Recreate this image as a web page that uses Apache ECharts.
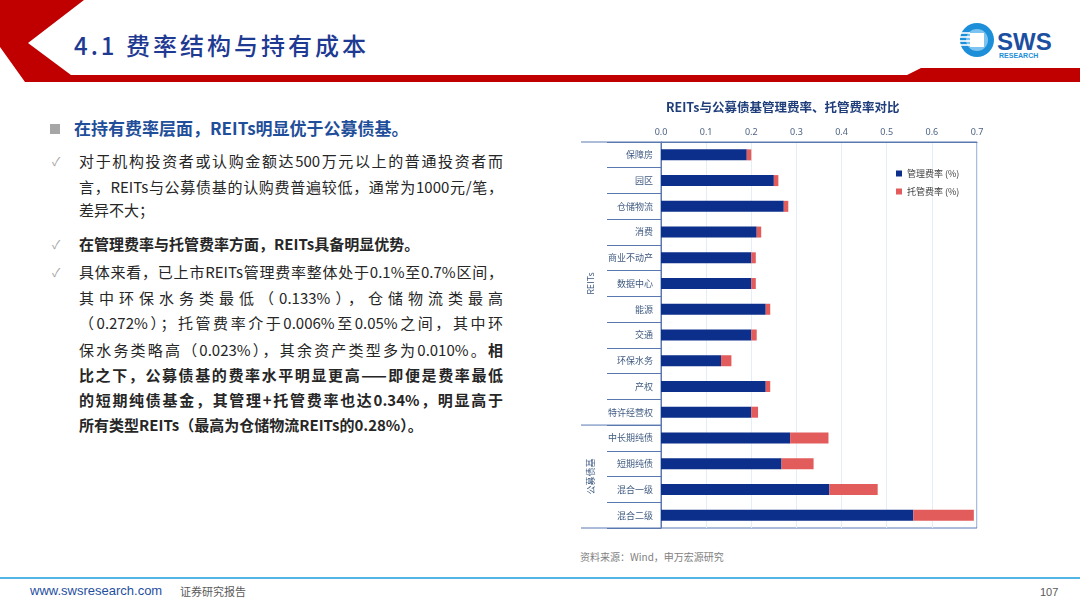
<!DOCTYPE html>
<html><head><meta charset="utf-8">
<script src="https://cdn.jsdelivr.net/npm/echarts@6/dist/echarts.min.js"></script>
<style>
html,body{margin:0;padding:0;background:#fff;width:1080px;height:608px;overflow:hidden;font-family:"Noto Sans CJK SC","Noto Sans",sans-serif;}
#chart{position:absolute;left:0;top:0;width:1080px;height:608px;}
.ln{position:absolute;left:79px;width:424px;font-size:15px;color:#262626;white-space:nowrap;line-height:20px;}
.j{text-align:justify;text-align-last:justify;}
.b{font-weight:bold;}
.ck{position:absolute;left:52px;font-size:12px;color:#a6a6a6;line-height:20px;}
</style></head>
<body>
<svg width="1080" height="608" style="position:absolute;left:0;top:0">
  <polygon points="0,0 84,0 28,43 71,75 907,75 921,68 1080,68 1080,82 25,82 0,47" fill="#c00000"/>
  <line x1="0" y1="578" x2="1080" y2="578" stroke="#53b4e6" stroke-width="2"/>
  <circle cx="977" cy="40" r="17" fill="#1d8fd8"/>
  <circle cx="977" cy="40" r="11" fill="#7cc3ef"/>
  <rect x="970" y="33" width="14" height="14" fill="#ffffff"/>
  <g stroke="#ffffff" stroke-width="1.6">
    <line x1="961" y1="33" x2="970" y2="33"/>
    <line x1="960" y1="37" x2="970" y2="37"/>
    <line x1="960" y1="41" x2="970" y2="41"/>
    <line x1="960" y1="45" x2="970" y2="45"/>
  </g>
  <text x="997" y="50" font-family="Liberation Sans, Arial" font-weight="bold" font-size="24" fill="#1c4fa1">SWS</text>
  <text x="999" y="58" font-family="Liberation Sans, Arial" font-weight="bold" font-size="7" fill="#1d8fd8">RESEARCH</text>
</svg>
<div style="position:absolute;left:74px;top:29px;font-size:24px;letter-spacing:3px;color:#1f3a93;font-weight:500;line-height:32px;">4.1 费率结构与持有成本</div>

<div style="position:absolute;left:50px;top:124px;width:10px;height:10px;background:#a6a6a6"></div>
<div style="position:absolute;left:74px;top:118px;font-size:17px;font-weight:bold;color:#1f4e9a;line-height:20px;white-space:nowrap">在持有费率层面，REITs明显优于公募债基。</div>

<div class="ck" style="top:151px">✓</div>
<div class="ln j" style="top:151px">对于机构投资者或认购金额达500万元以上的普通投资者而</div>
<div class="ln j" style="top:177px">言，REITs与公募债基的认购费普遍较低，通常为1000元/笔，</div>
<div class="ln" style="top:200px">差异不大；</div>
<div class="ck" style="top:234px">✓</div>
<div class="ln b" style="top:234px">在管理费率与托管费率方面，REITs具备明显优势。</div>
<div class="ck" style="top:262px">✓</div>
<div class="ln j" style="top:262px">具体来看，已上市REITs管理费率整体处于0.1%至0.7%区间，</div>
<div class="ln j" style="top:288px">其中环保水务类最低（0.133%），仓储物流类最高</div>
<div class="ln j" style="top:313px">（0.272%）；托管费率介于0.006%至0.05%之间，其中环</div>
<div class="ln j" style="top:340px">保水务类略高（0.023%），其余资产类型多为0.010%。<b>相</b></div>
<div class="ln j b" style="top:365px">比之下，公募债基的费率水平明显更高——即便是费率最低</div>
<div class="ln j b" style="top:390px">的短期纯债基金，其管理+托管费率也达0.34%，明显高于</div>
<div class="ln b" style="top:415px">所有类型REITs（最高为仓储物流REITs的0.28%）。</div>

<div style="position:absolute;left:580px;top:550px;font-size:10px;color:#7f7f7f;line-height:14px">资料来源：Wind，申万宏源研究</div>
<div style="position:absolute;left:30px;top:583px;font-size:13px;color:#1f4f9f;font-family:'Liberation Sans Narrow','Liberation Sans',sans-serif;line-height:16px">www.swsresearch.com</div>
<div style="position:absolute;left:180px;top:583px;font-size:11px;color:#595959;line-height:16px">证券研究报告</div>
<div style="position:absolute;left:1040px;top:584px;font-size:11px;color:#595959;font-family:'Liberation Sans Narrow','Liberation Sans',sans-serif;line-height:16px">107</div>

<div id="chart"></div>
<script>
const categories = ['保障房','园区','仓储物流','消费','商业不动产','数据中心','能源','交通','环保水务','产权','特许经营权','中长期纯债','短期纯债','混合一级','混合二级'];
const mgmtFee    = [0.19, 0.25, 0.272, 0.212, 0.20, 0.20, 0.232, 0.20, 0.133, 0.232, 0.20, 0.286, 0.267, 0.373, 0.559];
const custodyFee = [0.01, 0.01, 0.010, 0.010, 0.01, 0.01, 0.010, 0.012, 0.023, 0.010, 0.015, 0.085, 0.071, 0.107, 0.134];
const seriesNames = ['管理费率 (%)','托管费率 (%)'];
const groupNames = ['REITs','公募债基'];
const groupSizes = [11, 4];
const xMin = 0, xMax = 0.7, xStep = 0.1;

const axisColor = '#5a78b0';
const chart = echarts.init(document.getElementById('chart'), null, {renderer:'canvas'});
const GRID = {left:661, right:103, top:142, bottom:80};
chart.setOption({
  backgroundColor:'transparent',
  animation:false,
  title:{text:'REITs与公募债基管理费率、托管费率对比', left:661, top:96,
    textStyle:{fontSize:12.5, fontWeight:'bold', color:'#1f3d7a', fontFamily:'Noto Sans CJK SC'}},
  legend:{orient:'vertical', left:891, top:164, itemWidth:6, itemHeight:6, itemGap:9, icon:'rect',
    textStyle:{fontSize:9, color:'#404040', fontFamily:'Noto Sans CJK SC'}, data:seriesNames},
  grid:{left:GRID.left, right:GRID.right, top:GRID.top, bottom:GRID.bottom, show:true, borderColor:axisColor, borderWidth:1, backgroundColor:'transparent'},
  xAxis:{type:'value', position:'top', min:xMin, max:xMax, interval:xStep,
    axisLine:{show:true, lineStyle:{color:axisColor}}, axisTick:{show:false},
    axisLabel:{formatter:v=>v.toFixed(1), fontSize:9, color:'#4d6485', margin:5, fontFamily:'Noto Sans'},
    splitLine:{show:true, lineStyle:{color:'#e4eef6'}}},
  yAxis:{type:'category', inverse:true, data:categories,
    axisLine:{show:true, lineStyle:{color:axisColor}},
    axisTick:{show:true, length:54, interval:0, lineStyle:{color:axisColor}},
    axisLabel:{fontSize:9, color:'#3f5a80', margin:8, fontFamily:'Noto Sans CJK SC'}},
  series:[
    {name:seriesNames[0], type:'bar', stack:'fee', data:mgmtFee, barWidth:11, itemStyle:{color:'#0c2f8c'}},
    {name:seriesNames[1], type:'bar', stack:'fee', data:custodyFee, barWidth:11, itemStyle:{color:'#e25c5c'}}
  ]
});

// group labels and separators derived from the category axis
const c0 = chart.convertToPixel({yAxisIndex:0}, categories[0]);
const c1 = chart.convertToPixel({yAxisIndex:0}, categories[1]);
const band = c1 - c0;
const topY = c0 - band/2;
const axisX = chart.convertToPixel({xAxisIndex:0}, xMin);
const leftX = axisX - 80;
const g = [];
let start = 0;
const lineStyle = {stroke:axisColor, lineWidth:1};
g.push({type:'line', shape:{x1:leftX, y1:topY, x2:axisX, y2:topY}, style:lineStyle});
groupNames.forEach((name, i) => {
  const y1 = topY + start*band;
  const y2 = topY + (start+groupSizes[i])*band;
  g.push({type:'line', shape:{x1:leftX, y1:y2, x2:axisX, y2:y2}, style:lineStyle});
  g.push({type:'text', x:leftX+10, y:(y1+y2)/2, rotation:Math.PI/2,
    style:{text:name, fill:'#3f5a80', font:'9px "Noto Sans CJK SC"', align:'center', verticalAlign:'middle'}});
  start += groupSizes[i];
});
chart.setOption({graphic:g});
</script>
</body></html>
